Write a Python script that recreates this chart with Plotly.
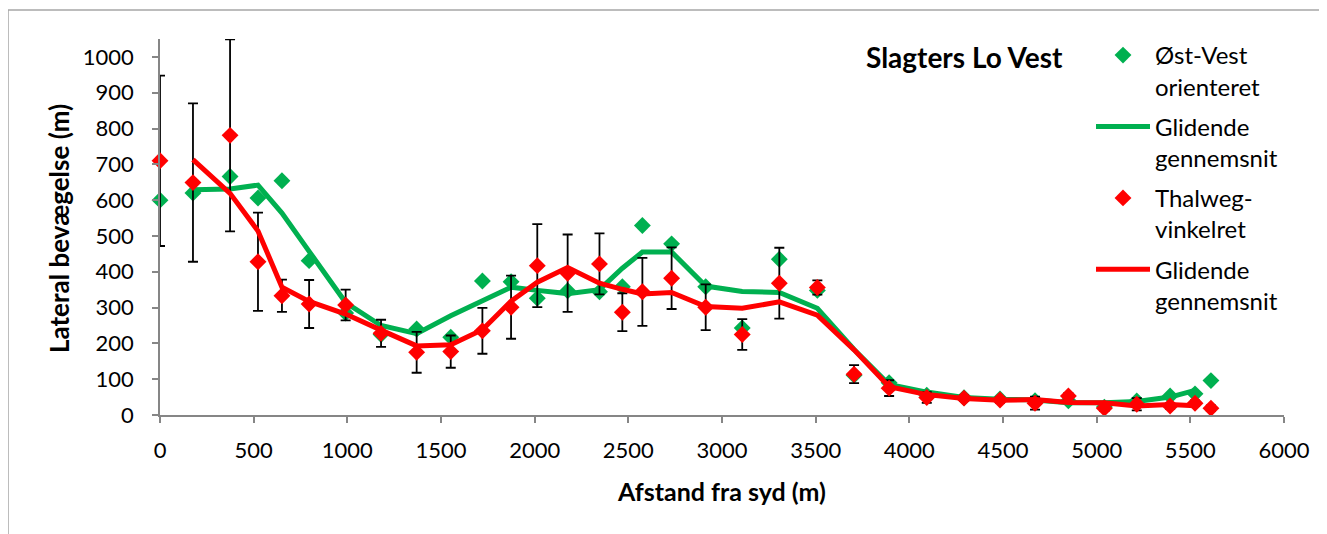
import plotly.graph_objects as go

# distance from south (m)
afstand = [0, 176, 374, 523, 651, 796, 991, 1180, 1370, 1552, 1721, 1874, 2014, 2176,
           2346, 2468, 2575, 2731, 2913, 3108, 3306, 3509, 3705, 3892, 4093, 4292,
           4484, 4671, 4849, 5041, 5214, 5392, 5525, 5610]

# East-West oriented lateral movement (m)
ost_vest = [600, 620, 666, 606, 654, 431, 285, 225, 240, 217, 374, 372, 326, 347,
            344, 358, 529, 478, 358, 243, 435, 348, 111, 90, 55, 48,
            45, 40, 40, 22, 39, 53, 59, 96]

# Thalweg-perpendicular lateral movement (m)
thalweg = [710, 649, 781, 428, 333, 310, 307, 228, 175, 177, 235, 301, 417, 396,
           422, 287, 344, 382, 301, 225, 368, 356, 114, 75, 49, 47,
           42, 33, 53, 19, 30, 25, 33, 19]

# error (+/-) on thalweg series (m)
thalweg_err = [238, 221, 268, 137, 45, 67, 43, 38, 57, 45, 64, 88, 116, 108,
               85, 53, 95, 86, 64, 43, 99, 20, 25, 22, 15, 8,
               8, 18, 8, 8, 17, 8, 8, 8]

# moving averages
ma_x = [176, 374, 523, 651, 796, 991, 1180, 1370, 1552, 1721, 1874, 2014, 2176,
        2346, 2468, 2575, 2731, 2913, 3108, 3306, 3509, 3705, 3892, 4093, 4292,
        4484, 4671, 4849, 5041, 5214, 5392, 5525]
ma_ost_vest = [629, 631, 642, 564, 457, 314, 250, 227, 277, 321, 357, 348, 339,
               350, 410, 455, 455, 360, 345, 342, 298, 183, 85, 64, 49,
               44, 42, 34, 34, 38, 50, 69]
ma_thalweg = [713, 619, 514, 357, 317, 282, 237, 193, 196, 238, 318, 371, 412,
              368, 351, 338, 342, 303, 298, 316, 279, 182, 79, 57, 46,
              41, 43, 35, 34, 25, 29, 26]

x_ticks = list(range(0, 6001, 500))
y_ticks = list(range(0, 1001, 100))

GREEN = "#00B050"
RED = "#FF0000"
FONT = "Lato, 'Open Sans', sans-serif"

fig = go.Figure()
fig.add_trace(go.Scatter(
    x=afstand, y=ost_vest, mode="markers", name="Øst-Vest<br>orienteret",
    legendgroup="a",
    marker=dict(symbol="diamond", size=13, color=GREEN, line=dict(width=0)),
    cliponaxis=False,
))
fig.add_trace(go.Scatter(
    x=ma_x, y=ma_ost_vest, mode="lines", name="Glidende<br>gennemsnit",
    legendgroup="b",
    line=dict(color=GREEN, width=5),
))
fig.add_trace(go.Scatter(
    x=afstand, y=thalweg, mode="markers", name="Thalweg-<br>vinkelret",
    legendgroup="c",
    marker=dict(symbol="diamond", size=13, color=RED, line=dict(width=0)),
    error_y=dict(type="data", array=thalweg_err, visible=True,
                 color="black", thickness=1.8, width=5),
    cliponaxis=False,
))
fig.add_trace(go.Scatter(
    x=ma_x, y=ma_thalweg, mode="lines", name="Glidende<br>gennemsnit",
    legendgroup="d",
    line=dict(color=RED, width=5),
))

# the page body adds an 8px offset; figure coords = page coords - 8
W, H = 1319, 526
L, T = 152, 31
pw, ph = 1124, 376
R = W - L - pw
B = H - T - ph


def px(fx):
    return (fx - L) / pw


def py(fy):
    return (H - fy - B) / ph


fig.update_layout(
    width=W, height=H,
    margin=dict(l=L, r=R, t=T, b=B),
    paper_bgcolor="white", plot_bgcolor="white",
    font=dict(family=FONT, size=22, color="black"),
    showlegend=True,
    legend=dict(
        x=px(1083), y=py(25), xanchor="left", yanchor="top",
        bgcolor="rgba(0,0,0,0)", font=dict(size=24, family=FONT),
        valign="top", itemwidth=54, tracegroupgap=6, maxheight=480,
    ),
    xaxis=dict(
        range=[0, 6000], tickmode="array", tickvals=x_ticks,
        showgrid=False, zeroline=False, showline=True, linecolor="#868686",
        linewidth=1.5, ticks="outside", ticklen=6, tickcolor="#868686",
        tickwidth=1.5, tickfont=dict(size=22), ticklabelstandoff=9,
    ),
    yaxis=dict(
        range=[0, 1050], tickmode="array", tickvals=y_ticks,
        showgrid=False, zeroline=False, showline=True, linecolor="#868686",
        linewidth=1.5, ticks="outside", ticklen=6, tickcolor="#868686",
        tickwidth=1.5, tickfont=dict(size=22), ticklabelstandoff=14,
    ),
    shapes=[dict(
        type="rect", xref="paper", yref="paper",
        x0=px(0), x1=px(1335), y0=py(540), y1=py(2),
        line=dict(color="#A6A6A6", width=1.5), fillcolor="rgba(0,0,0,0)", layer="below",
    )],
    annotations=[
        dict(text="<b>Slagters Lo Vest</b>", xref="paper", yref="paper",
             x=px(856), y=py(49), xanchor="left", yanchor="middle",
             showarrow=False, font=dict(size=28)),
        dict(text="<b>Afstand fra syd (m)</b>", xref="paper", yref="paper",
             x=px(713), y=py(483), xanchor="center", yanchor="middle",
             showarrow=False, font=dict(size=25)),
        dict(text="<b>Lateral bevægelse (m)</b>", xref="paper", yref="paper",
             x=px(51), y=py(221), xanchor="center", yanchor="middle",
             textangle=-90, showarrow=False, font=dict(size=26)),
    ],
)

fig.write_html("out.html")
